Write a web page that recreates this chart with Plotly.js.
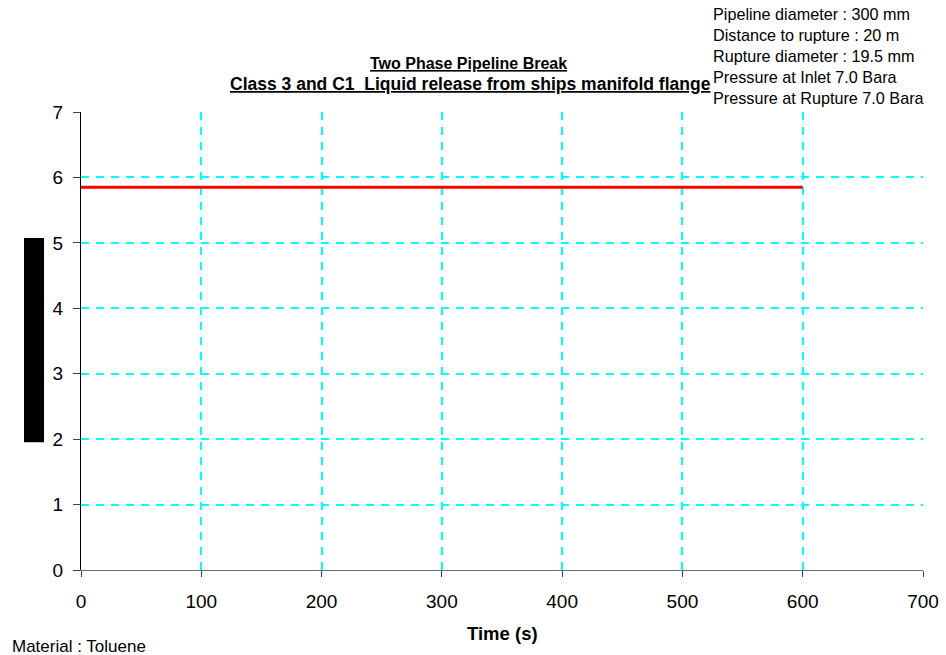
<!DOCTYPE html>
<html><head><meta charset="utf-8">
<script src="https://cdn.plot.ly/plotly-3.0.1.min.js"></script>
<style>body{margin:0;padding:0;background:#fff}#c{width:946px;height:655px}</style>
</head><body><div id="c"></div>
<script>
var timeS = [0, 600];
var valueSeries = [5.85, 5.85];
var xTicks = [0, 100, 200, 300, 400, 500, 600, 700];
var yTicks = [0, 1, 2, 3, 4, 5, 6, 7];
var titleLines = ["Two Phase Pipeline Break", "Class 3 and C1  Liquid release from ships manifold flange"];
var infoLines = ["Pipeline diameter : 300 mm", "Distance to rupture : 20 m", "Rupture diameter : 19.5 mm", "Pressure at Inlet 7.0 Bara", "Pressure at Rupture 7.0 Bara"];
var xTitle = "Time (s)";
var materialNote = "Material : Toluene";

var font = "Liberation Sans, Arial, sans-serif";
var trace = {x: timeS, y: valueSeries, mode: 'lines', line: {color: '#ff0000', width: 3}, hoverinfo: 'skip'};
var grid = {showgrid: true, gridcolor: '#00ffff', griddash: '8px,7px', gridwidth: 2};
var layout = {
  width: 946, height: 655,
  margin: {l: 81, r: 23, t: 112, b: 85},
  paper_bgcolor: '#fff', plot_bgcolor: '#fff',
  showlegend: false,
  font: {family: font, color: '#000'},
  xaxis: Object.assign({range: [0, 700], tickvals: xTicks, ticktext: xTicks.map(String),
    zeroline: false, showline: true, linecolor: '#707070', linewidth: 1, ticks: 'outside', ticklen: 6, tickcolor: '#404040',
    ticklabelstandoff: 8, tickfont: {size: 19, family: font}}, grid),
  yaxis: Object.assign({range: [0, 7], tickvals: yTicks, ticktext: yTicks.map(String),
    zeroline: false, showline: true, linecolor: '#000', linewidth: 1, ticks: 'outside', ticklen: 7, tickcolor: '#404040',
    ticklabelstandoff: 6, tickfont: {size: 19, family: font}}, grid),
  shapes: [{type: 'rect', xref: 'paper', yref: 'paper', x0: -0.0677, x1: -0.0439, y0: 0.279, y1: 0.725, fillcolor: '#000', line: {width: 0}}],
  annotations: [
    {text: '<b><u>' + titleLines[0] + '</u></b>', xref: 'paper', yref: 'paper', x: 0.4608, y: 1.105, xanchor: 'center', yanchor: 'middle', showarrow: false,
      font: {size: 16, family: font, color: '#000'}},
    {text: '<b><u>' + titleLines[1] + '</u></b>', xref: 'paper', yref: 'paper', x: 0.462, y: 1.0615, xanchor: 'center', yanchor: 'middle', showarrow: false,
      font: {size: 17.5, family: font, color: '#000'}},
    {text: infoLines.join('<br>'), xref: 'paper', yref: 'paper', x: 0.7488, y: 1.238, xanchor: 'left', yanchor: 'top', align: 'left', showarrow: false,
      font: {size: 16.2, family: font, color: '#000'}},
    {text: '<b>' + xTitle + '</b>', xref: 'paper', yref: 'paper', x: 0.5, y: -0.1376, xanchor: 'center', yanchor: 'middle', showarrow: false,
      font: {size: 18.5, family: font, color: '#000'}},
    {text: materialNote, xref: 'paper', yref: 'paper', x: -0.0845, y: -0.166, xanchor: 'left', yanchor: 'middle', showarrow: false,
      font: {size: 17, family: font, color: '#000'}}
  ]
};
Plotly.newPlot('c', [trace], layout, {displayModeBar: false, staticPlot: true});
</script></body></html>
